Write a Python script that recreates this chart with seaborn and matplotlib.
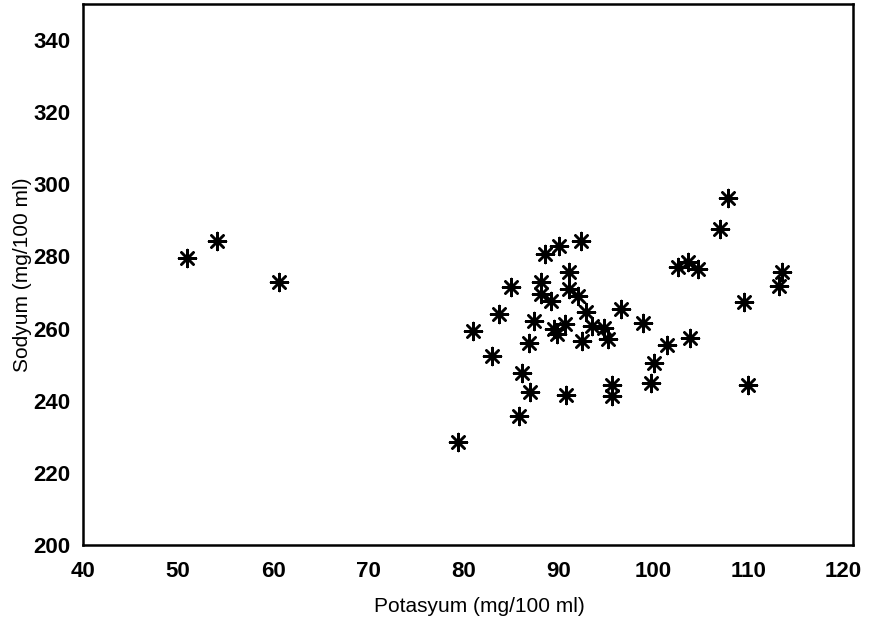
"""
Sodyum vs Potasyum scatter (asterisk markers).
"""

import matplotlib
matplotlib.use('Agg')
import matplotlib.pyplot as plt
import seaborn as sns
import pandas as pd

# values
potasyum = [
    50.9, 54.1, 60.6,
    79.4, 81.0, 83.0, 83.7, 85.0, 86.2, 85.8, 87.0, 86.9, 87.4,
    88.6, 90.1, 92.4, 88.2, 88.2, 89.2, 91.1, 91.1, 92.1, 89.5,
    90.7, 89.9, 90.8, 92.5, 92.9, 93.5, 94.8, 95.2, 96.6, 95.6,
    95.6, 98.9, 101.4, 100.1, 99.7,
    107.8, 107.0, 104.7, 103.6, 102.6, 113.5, 113.2, 109.5, 103.8, 109.9,
]
sodyum = [
    279.7, 284.4, 272.8,
    228.7, 259.3, 252.4, 264.0, 271.4, 247.8, 235.9, 242.4, 256.1, 262.1,
    280.7, 283.0, 284.4, 272.8, 269.5, 267.7, 275.6, 270.9, 269.1, 259.8,
    261.2, 258.4, 241.5, 256.6, 264.5, 260.7, 260.1, 257.0, 265.4, 244.5,
    241.3, 261.7, 255.4, 250.5, 245.0,
    296.2, 287.6, 276.5, 278.4, 277.0, 275.6, 271.9, 267.4, 257.5, 244.5,
]
x_ticks = [40, 50, 60, 70, 80, 90, 100, 110, 120]
y_ticks = [200, 220, 240, 260, 280, 300, 320, 340]

df = pd.DataFrame({"Potasyum": potasyum, "Sodyum": sodyum})

sns.set_style("white")
plt.rcParams['font.family'] = ['Liberation Sans', 'DejaVu Sans']
plt.rcParams['text.color'] = 'black'
plt.rcParams['axes.labelcolor'] = 'black'
plt.rcParams['xtick.color'] = 'black'
plt.rcParams['ytick.color'] = 'black'

fig = plt.figure(figsize=(8.75, 6.26), dpi=100)
ax = fig.add_axes([0.095, 0.129, 0.880, 0.865])

sns.scatterplot(
    data=df, x="Potasyum", y="Sodyum", ax=ax,
    marker=(8, 2, 0), s=150, color='black', edgecolor='black',
    linewidth=1.8, legend=False
)

ax.set_xlim(40, 121)
ax.set_ylim(200, 350)
ax.set_xticks(x_ticks)
ax.set_yticks(y_ticks)
ax.tick_params(length=0, labelsize=16)
ax.tick_params(axis='x', pad=11)
ax.tick_params(axis='y', pad=9)
for lbl in ax.get_xticklabels() + ax.get_yticklabels():
    lbl.set_fontweight('bold')

ax.set_xlabel('Potasyum (mg/100 ml)', fontsize=15, labelpad=12)
ax.set_ylabel('Sodyum (mg/100 ml)', fontsize=15, labelpad=1)
ax.xaxis.set_label_coords(0.515, -0.095)

for side in ['left', 'right', 'top', 'bottom']:
    ax.spines[side].set_visible(True)
    ax.spines[side].set_color('black')
    ax.spines[side].set_linewidth(1.8)

plt.savefig('out.png', dpi=100)
plt.close()
